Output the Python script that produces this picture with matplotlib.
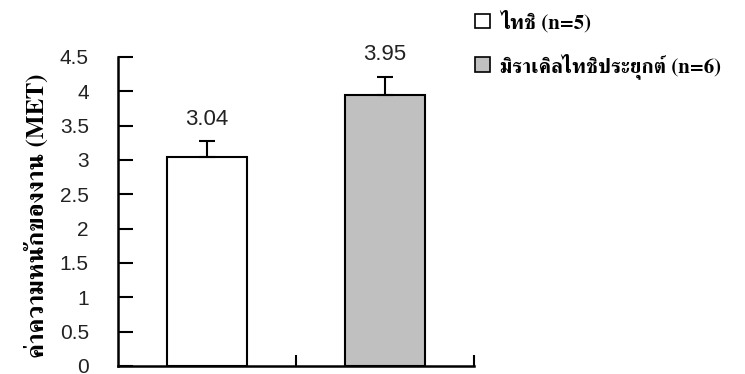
import matplotlib
matplotlib.use("Agg")
import numpy as np
import matplotlib.pyplot as plt
from matplotlib.patches import Patch

groups = ["ไทชิ (n=5)", "มิราเคิลไทชิประยุกต์ (n=6)"]
means = [3.04, 3.95]
errs = [0.23, 0.26]
bar_colors = ["white", "#c0c0c0"]
yticks = [0, 0.5, 1, 1.5, 2, 2.5, 3, 3.5, 4, 4.5]
ylabel = "ค่าความหนักของงาน (MET)"

thai = ["FreeSerif", "Noto Serif Thai", "DejaVu Serif"]
num_font = "Liberation Sans"

fig = plt.figure(figsize=(7.45, 3.74), dpi=100)
ax = fig.add_axes([0.1584, 0.0214, 0.4776, 0.8262])

ind = np.arange(len(means))
bars = ax.bar(ind, means, 0.45, color=bar_colors, edgecolor="black", linewidth=1.5, zorder=2)
ax.errorbar(ind, means, yerr=[[0, 0], errs], fmt="none", ecolor="black",
            elinewidth=1.5, capsize=6, capthick=1.5, zorder=3)

for x, m, e in zip(ind, means, errs):
    ax.annotate("%.2f" % m, (x, m + e), xytext=(0, 16), textcoords="offset points",
                ha="center", va="center", fontsize=16, family=num_font,
                color="#222222", annotation_clip=False)

ax.set_xlim(-0.5, 1.5)
ax.set_ylim(0, 4.5)
ax.set_yticks(yticks)
ax.set_yticklabels(["%g" % t for t in yticks], family=num_font, fontsize=15, color="#222222")
ax.set_xticks([0.5, 1.5])
ax.set_xticklabels([])
ax.tick_params(axis="y", direction="in", length=11, width=1.5, pad=21)
ax.tick_params(axis="x", direction="in", length=8, width=1.5)
for s in ["top", "right"]:
    ax.spines[s].set_visible(False)
for s in ["left", "bottom"]:
    ax.spines[s].set_linewidth(1.8)

ax.set_ylabel(ylabel, family=thai, fontweight="bold", fontsize=18)
ax.yaxis.set_label_coords(-0.228, 0.485)
ax.yaxis.label.set_va("center")

handles = [Patch(facecolor=c, edgecolor="black", linewidth=1.2) for c in bar_colors]
leg = fig.legend(handles, groups, loc="upper left", bbox_to_anchor=(0.613, 1.025),
                 frameon=False, handlelength=0.68, handleheight=0.68, handletextpad=0.5,
                 labelspacing=1.0, prop={"family": thai, "weight": "bold", "size": 15})

fig.savefig("out.png")
